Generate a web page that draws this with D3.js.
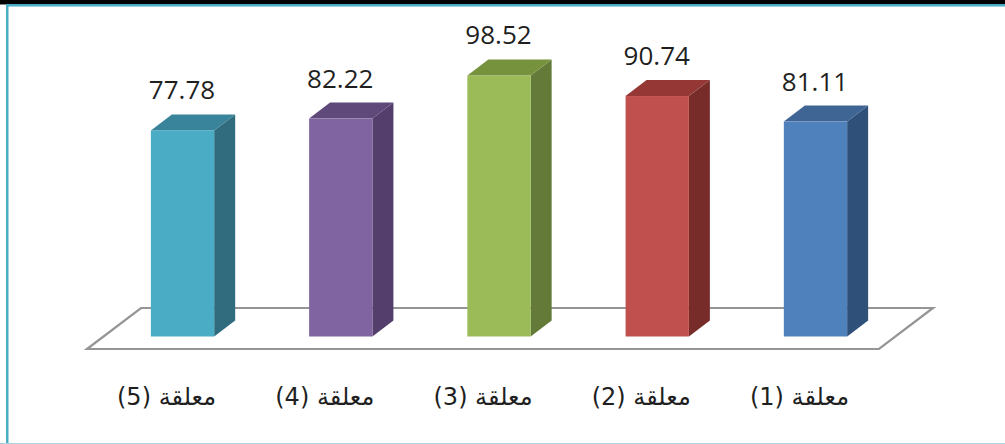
<!DOCTYPE html>
<html>
<head>
<meta charset="utf-8">
<script src="https://cdn.jsdelivr.net/npm/d3@7"></script>
<style>
  html, body { margin: 0; padding: 0; background: #fff; overflow: hidden; }
  svg { display: block; }
</style>
</head>
<body>
<div id="chart"></div>
<script>
// data, left to right as in the picture
var categories = ['معلقة (5)', 'معلقة (4)', 'معلقة (3)', 'معلقة (2)', 'معلقة (1)'];
var values = [77.78, 82.22, 98.52, 90.74, 81.11];
var frontColors = ['#4bacc6', '#8064a2', '#9bbb59', '#c0504d', '#4f81bd'];
var topColors = ['#39849b', '#5f497a', '#76923c', '#953735', '#3e6594'];
var sideColors = ['#306c7e', '#533e6c', '#647a39', '#772c2a', '#2f5079'];

var width = 1005, height = 444;
var depthX = 21, depthY = 16;
var baseY = 336.5;

var svg = d3.select('#chart').append('svg')
  .attr('width', width)
  .attr('height', height);

var x = d3.scaleBand()
  .domain(categories)
  .range([103.4, 894.6])
  .paddingInner(0.6)
  .paddingOuter(0.3);

var y = d3.scaleLinear()
  .domain([0, 100])
  .range([baseY, 71.5]);

function poly(points) {
  return points.map(function (p) { return p.join(','); }).join(' ');
}

// FRAME
svg.append('rect').attr('x', 0).attr('y', 0).attr('width', width).attr('height', 4.5).attr('fill', '#000');
svg.append('rect').attr('x', 6).attr('y', 4).attr('width', width - 6).attr('height', 2.5).attr('fill', '#4bacc6');
svg.append('rect').attr('x', 6).attr('y', 4).attr('width', 2.5).attr('height', height - 4).attr('fill', '#4bacc6');
svg.append('rect').attr('x', 0).attr('y', 443).attr('width', width).attr('height', 1).attr('fill', '#a5d5e0');

// FLOOR
svg.append('polygon')
  .attr('points', poly([
    [x.range()[0] - 16.4, y(0) + 12.5],
    [x.range()[0] + 37.6, y(0) - 28.5],
    [x.range()[1] + 38.4, y(0) - 28.5],
    [x.range()[1] - 15.6, y(0) + 12.5]
  ]))
  .attr('fill', '#fff')
  .attr('stroke', '#959595')
  .attr('stroke-width', 2.2);

// BARS
var bars = svg.selectAll('g.bar')
  .data(categories)
  .enter()
  .append('g')
  .attr('class', 'bar');

bars.append('polygon')
  .attr('points', function (d, i) {
    var x1 = x(d) + x.bandwidth();
    return poly([
      [x1, y(values[i])],
      [x1 + depthX, y(values[i]) - depthY],
      [x1 + depthX, y(0) - depthY],
      [x1, y(0)]
    ]);
  })
  .attr('fill', function (d, i) { return sideColors[i]; });

bars.append('polygon')
  .attr('points', function (d, i) {
    var x0 = x(d), x1 = x0 + x.bandwidth(), top = y(values[i]);
    return poly([
      [x0, top],
      [x0 + depthX, top - depthY],
      [x1 + depthX, top - depthY],
      [x1, top]
    ]);
  })
  .attr('fill', function (d, i) { return topColors[i]; });

bars.append('rect')
  .attr('x', function (d) { return x(d); })
  .attr('y', function (d, i) { return y(values[i]); })
  .attr('width', x.bandwidth())
  .attr('height', function (d, i) { return y(0) - y(values[i]); })
  .attr('fill', function (d, i) { return frontColors[i]; });

// value labels
bars.append('text')
  .attr('x', function (d) { return x(d) + x.bandwidth() / 2 - 0.5; })
  .attr('y', function (d, i) { return y(values[i]) - 31; })
  .attr('text-anchor', 'middle')
  .style('font-family', '"Open Sans", sans-serif')
  .style('font-size', '26px')
  .attr('fill', '#1f1f1f')
  .text(function (d, i) { return values[i].toFixed(2); });

// category labels
bars.append('text')
  .attr('x', function (d) { return x(d) + x.bandwidth() / 2 - 16; })
  .attr('y', 405)
  .attr('text-anchor', 'middle')
  .attr('direction', 'rtl')
  .style('font-family', '"DejaVu Sans", sans-serif')
  .style('font-size', '24px')
  .attr('fill', '#1f1f1f')
  .text(function (d) { return d; });
</script>
</body>
</html>
